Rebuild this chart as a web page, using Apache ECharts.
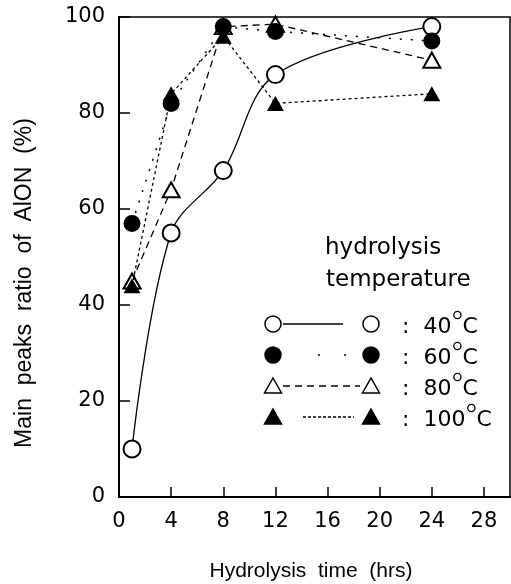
<!DOCTYPE html>
<html>
<head>
<meta charset="utf-8">
<script src="https://cdn.jsdelivr.net/npm/echarts@6/dist/echarts.min.js"></script>
<style>
  html, body { margin: 0; padding: 0; background: #fff; }
  #chart { width: 511px; height: 584px; }
</style>
</head>
<body>
<div id="chart"></div>
<script>
// hydrolysis time (hrs) for every series
var hours = [1, 4, 8, 12, 24];
// main peaks ratio of AlON (%)
var t40 = [10, 55, 68, 88, 98];
var t60 = [57, 82, 98, 97, 95];
var t80 = [45, 64, 98, 98.5, 91];
var t100 = [44, 84, 96, 82, 84];
var xTicks = [0, 4, 8, 12, 16, 20, 24, 28];
var yTicks = [0, 20, 40, 60, 80, 100];
var legendLabels = ['40', '60', '80', '100'];

var chart = echarts.init(document.getElementById('chart'), null, { renderer: 'canvas' });

function pairs(vals) {
  return hours.map(function (h, i) { return [h, vals[i]]; });
}

var tickFont = 'DejaVu Sans';
var legendFont = '22px "DejaVu Sans"';

// measure legend text so the degree sign sits right after the number
var ctx = document.createElement('canvas').getContext('2d');
ctx.font = legendFont;

// legend rows: symbol, line dash, symbol, label
var rowY = [324, 355, 386, 417];
var rowSpec = [
  { sym: 'circle', fill: '#fff', dash: null, x1: 283, x2: 343 },
  { sym: 'circle', fill: '#000', dash: [2, 24], x1: 318, x2: 356 },
  { sym: 'tri', fill: '#fff', dash: [7, 5], x1: 283, x2: 360 },
  { sym: 'tri', fill: '#000', dash: [3, 2], x1: 303, x2: 354 }
];

function legendSymbol(kind, fill, cx, cy) {
  if (kind === 'circle') {
    return { type: 'circle', shape: { cx: cx, cy: cy, r: 8 },
      style: { fill: fill, stroke: '#000', lineWidth: 1.5 } };
  }
  return { type: 'polygon', shape: { points: [[cx, cy - 8], [cx + 8.5, cy + 7], [cx - 8.5, cy + 7]] },
    style: { fill: fill, stroke: '#000', lineWidth: 1.5 } };
}

var legendEls = [
  { type: 'text', left: 325, top: 237, style: { text: 'hydrolysis', font: '23px "DejaVu Sans"', fill: '#000' } },
  { type: 'text', left: 326, top: 269, style: { text: 'temperature', font: '23px "DejaVu Sans"', fill: '#000' } }
];
rowSpec.forEach(function (r, i) {
  var y = rowY[i];
  var label = ':  ' + legendLabels[i];
  var tx = 402;
  var endX = tx + ctx.measureText(label).width;
  legendEls.push(legendSymbol(r.sym, r.fill, 273, y));
  legendEls.push({ type: 'line', shape: { x1: r.x1, y1: y, x2: r.x2, y2: y },
    style: { stroke: '#000', lineWidth: 1.3, lineDash: r.dash } });
  legendEls.push(legendSymbol(r.sym, r.fill, 371, y));
  legendEls.push({ type: 'text', x: tx, y: y + 3,
    style: { text: label, font: legendFont, fill: '#000', verticalAlign: 'middle' } });
  legendEls.push({ type: 'circle', shape: { cx: endX + 6, cy: y - 9, r: 3.6 },
    style: { fill: 'none', stroke: '#000', lineWidth: 1.3 } });
  legendEls.push({ type: 'text', x: endX + 11, y: y + 3,
    style: { text: 'C', font: legendFont, fill: '#000', verticalAlign: 'middle' } });
});

var option = {
  animation: false,
  backgroundColor: '#fff',
  grid: {
    left: 119, right: 1, top: 17, bottom: 87,
    show: true, borderColor: '#000', borderWidth: 1.5, backgroundColor: 'transparent'
  },
  xAxis: {
    type: 'value', min: 0, max: 30, interval: 4,
    axisLine: { lineStyle: { color: '#000', width: 2 } },
    axisTick: { inside: true, length: 10, lineStyle: { color: '#000', width: 1.5 } },
    axisLabel: {
      margin: 14, color: '#000', fontFamily: tickFont, fontSize: 21, showMaxLabel: false,
      formatter: function (v) { return xTicks.indexOf(v) >= 0 ? String(v) : ''; }
    },
    splitLine: { show: false }
  },
  yAxis: {
    type: 'value', min: 0, max: 100, interval: 20,
    axisLine: { show: true, lineStyle: { color: '#000', width: 2 } },
    axisTick: { show: true, inside: true, length: 11, lineStyle: { color: '#000', width: 1.5 } },
    axisLabel: {
      margin: 14, color: '#000', fontFamily: tickFont, fontSize: 21,
      formatter: function (v) { return yTicks.indexOf(v) >= 0 ? String(v) : ''; }
    },
    splitLine: { show: false }
  },
  series: [
    {
      name: '40', type: 'line', data: pairs(t40), smooth: 0.35,
      symbol: 'emptyCircle', symbolSize: 17,
      lineStyle: { color: '#000', width: 1.3 },
      itemStyle: { color: '#000', borderWidth: 1.5, borderColor: '#000' }, z: 2
    },
    {
      name: '80', type: 'line', data: pairs(t80),
      symbol: 'emptyTriangle', symbolSize: [17, 15],
      lineStyle: { color: '#000', width: 1.3, type: [7, 5] },
      itemStyle: { color: '#000', borderWidth: 1.5, borderColor: '#000' }, z: 3
    },
    {
      name: '100', type: 'line', data: pairs(t100),
      symbol: 'triangle', symbolSize: [17, 15],
      lineStyle: { color: '#000', width: 1.3, type: [3, 3] },
      itemStyle: { color: '#000' }, z: 4
    },
    {
      name: '60', type: 'line', data: pairs(t60),
      symbol: 'circle', symbolSize: 17,
      lineStyle: { color: '#000', width: 1.5, type: [2, 9] },
      itemStyle: { color: '#000' }, z: 5
    }
  ],
  graphic: [
    {
      type: 'text', x: 25, y: 283, rotation: Math.PI / 2,
      style: {
        text: 'Main  peaks  ratio  of  AlON  (%)', font: '23px "Liberation Sans"',
        fill: '#000', align: 'center', verticalAlign: 'middle'
      }
    },
    {
      type: 'text', x: 311, y: 571,
      style: {
        text: 'Hydrolysis  time  (hrs)', font: '21px "Liberation Sans"',
        fill: '#000', align: 'center', verticalAlign: 'middle'
      }
    }
  ].concat(legendEls)
};

chart.setOption(option);
</script>
</body>
</html>
